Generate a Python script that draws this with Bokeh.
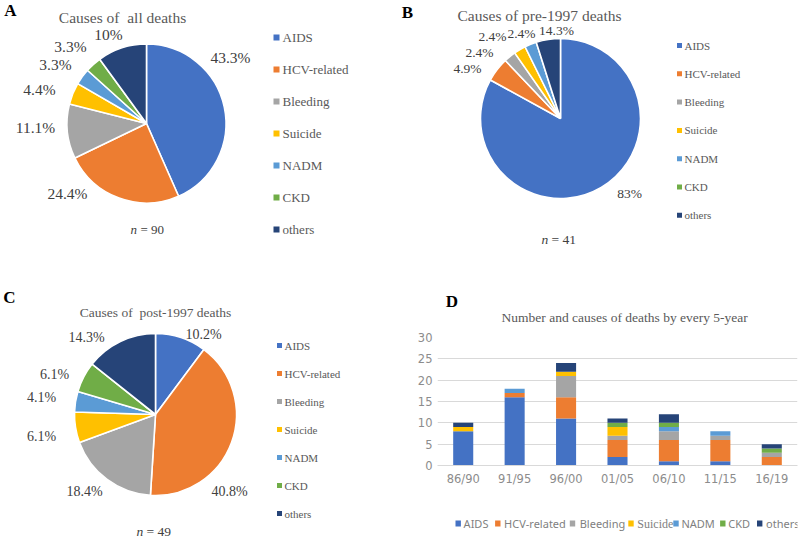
import numpy as np
from bokeh.plotting import figure
from bokeh.layouts import row, column
from bokeh.models import Range1d, FactorRange, ColumnDataSource
from bokeh.core.properties import value
from bokeh.embed import file_html
from bokeh.resources import INLINE

# ---------------- data ----------------
causes = ["AIDS", "HCV-related", "Bleeding", "Suicide", "NADM", "CKD", "others"]
colors = ["#4472C4", "#ED7D31", "#A5A5A5", "#FFC000", "#5B9BD5", "#70AD47", "#264478"]

all_pct = [43.3, 24.4, 11.1, 4.4, 3.3, 3.3, 10.0]
all_labels = ["43.3%", "24.4%", "11.1%", "4.4%", "3.3%", "3.3%", "10%"]

pre_pct = [83.0, 4.9, 2.4, 2.4, 2.4, 0.0, 4.9]
pre_labels = ["83%", "4.9%", "2.4%", "2.4%", "2.4%", "", "14.3%"]

post_pct = [10.2, 40.8, 18.4, 6.1, 4.1, 6.1, 14.3]
post_labels = ["10.2%", "40.8%", "18.4%", "6.1%", "4.1%", "6.1%", "14.3%"]

periods = ["86/90", "91/95", "96/00", "01/05", "06/10", "11/15", "16/19"]
aids = [8, 16, 11, 2, 1, 1, 0]
hcv = [0, 1, 5, 4, 5, 5, 2]
bleeding = [0, 0, 5, 1, 2, 1, 1]
suicide = [1, 0, 1, 2, 0, 0, 0]
nadm = [0, 1, 0, 0, 1, 1, 0]
ckd = [0, 0, 0, 1, 1, 0, 1]
others = [1, 0, 2, 1, 2, 0, 1]
y_ticks = [0, 5, 10, 15, 20, 25, 30]

SERIF = value("Liberation Serif")
SANS = value("Noto Sans")
DARK = "#404040"
GRAY = "#595959"


def canvas(x0, y0, w, h):
    p = figure(width=w, height=h, x_range=Range1d(x0, x0 + w),
               y_range=Range1d(-(y0 + h), -y0), output_backend="svg",
               toolbar_location=None, title=None, min_border=0,
               x_axis_location=None, y_axis_location=None)
    p.grid.visible = False
    p.outline_line_color = None
    p.background_fill_color = "white"
    return p


def txt(p, x, y, s, size, color=DARK, align="center", style="normal", font=SERIF):
    p.text(x=[x], y=[-y], text=[s], text_font=font, text_font_size=size,
           text_color=color, text_align=align, text_baseline="middle",
           text_font_style=style)


def pie(p, cx, cy, r, pct, labels, offsets, lsize):
    frac = np.array(pct, dtype=float) / sum(pct)
    cum = np.concatenate([[0.0], np.cumsum(frac)])
    start = np.pi / 2 - cum[1:] * 2 * np.pi
    end = np.pi / 2 - cum[:-1] * 2 * np.pi
    keep = frac > 0
    src = ColumnDataSource(dict(start=start[keep], end=end[keep],
                                color=[c for c, k in zip(colors, keep) if k]))
    p.wedge(x=cx, y=-cy, radius=r, start_angle="start", end_angle="end",
            fill_color="color", line_color="white", line_width=1.6, source=src)
    for lab, (dx, dy) in zip(labels, offsets):
        if lab:
            txt(p, cx + dx, cy + dy, lab, lsize)


def legend_col(p, sx, tx, y0, dy, sq, size):
    for i, (c, name) in enumerate(zip(colors, causes)):
        y = y0 + i * dy
        p.rect(x=[sx], y=[-y], width=sq, height=sq, fill_color=c, line_color=None)
        txt(p, tx, y, name, size, color=GRAY, align="left")


def n_label(p, cx, cy, num, size):
    txt(p, cx - 17, cy, "n", size, align="left", style="italic")
    txt(p, cx - 7, cy, "= " + num, size, align="left")


# ---------------- panel A ----------------
pA = canvas(0, 0, 400, 270)
txt(pA, 10, 10, "A", "17px", color="black", style="bold")
txt(pA, 122, 17, "Causes of\u00a0 all deaths", "15.5px", color=GRAY)
offA = [(84, -66), (-79, 70), (-111, 4), (-107, -34), (-91, -59), (-76, -77), (-38, -89)]
pie(pA, 146, 123, 79.5, all_pct, all_labels, offA, "15.5px")
legend_col(pA, 276, 282, 37, 32, 6, "13px")
n_label(pA, 147, 229, "90", "13px")

# ---------------- panel B ----------------
pB = canvas(400, 0, 400, 270)
txt(pB, 407, 12, "B", "17px", color="black", style="bold")
txt(pB, 539, 15, "Causes of pre-1997 deaths", "15.5px", color=GRAY)
offB = [(69, 75), (-93, -50), (-81, -66), (-68, -82), (-39, -85), (0, 0), (-4, -88)]
pie(pB, 560, 118, 80, pre_pct, pre_labels, offB, "13.5px")
legend_col(pB, 679, 684, 45, 28.3, 5, "11px")
n_label(pB, 558, 239, "41", "13.5px")

# ---------------- panel C ----------------
pC = canvas(0, 270, 400, 270)
txt(pC, 9, 297, "C", "17px", color="black", style="bold")
txt(pC, 155, 312, "Causes of\u00a0 post-1997 deaths", "13.5px", color=GRAY)
offC = [(48, -80), (74, 77), (-71, 77), (-114, 22), (-114, -17), (-101, -40), (-69, -77)]
pie(pC, 155, 414, 81, post_pct, post_labels, offC, "14px")
legend_col(pC, 279, 284, 345, 28, 5, "11px")
n_label(pC, 153, 531, "49", "13.5px")

# ---------------- panel D ----------------
pDh = canvas(400, 270, 400, 57)
txt(pDh, 416, 301, "D", "17px", color="black", style="bold")
txt(pDh, 608, 317, "Number and causes of deaths by every 5-year", "13.5px", color=GRAY)

data = dict(period=periods, AIDS=aids, **{"HCV-related": hcv}, Bleeding=bleeding,
            Suicide=suicide, NADM=nadm, CKD=ckd, others=others)
src = ColumnDataSource(data)
pD = figure(width=400, height=168, x_range=FactorRange(*periods), y_range=Range1d(0, 30),
            output_backend="svg", toolbar_location=None, title=None,
            min_border_left=37, min_border_right=3, min_border_top=10, min_border_bottom=30)
pD.vbar_stack(causes, x="period", width=0.39, color=colors, source=src, line_color=None)
pD.outline_line_color = None
pD.xgrid.grid_line_color = None
pD.ygrid.grid_line_color = "#d9d9d9"
pD.yaxis.ticker = y_ticks
pD.yaxis.axis_line_color = None
pD.yaxis.major_tick_line_color = None
pD.yaxis.minor_tick_line_color = None
pD.yaxis.major_tick_out = 0
pD.yaxis.major_label_standoff = 5
pD.xaxis.axis_line_color = "#d9d9d9"
pD.xaxis.major_tick_line_color = None
pD.xaxis.major_tick_out = 0
pD.xaxis.major_label_standoff = 6
for ax in (pD.xaxis, pD.yaxis):
    ax.major_label_text_font = "DejaVu Sans"
    ax.major_label_text_font_size = "11.5px"
    ax.major_label_text_color = "#8c8c8c"

pDl = canvas(400, 495, 400, 45)
sq_x = [423, 467, 550, 615, 665, 717, 758]
tx_x = [429, 474, 558, 622, 671, 723, 765]
for i, (c, name) in enumerate(zip(colors, causes)):
    pDl.rect(x=[sq_x[i]], y=[-523], width=6, height=6, fill_color=c, line_color=None)
    font = SERIF if name == "Suicide" else SANS
    size = "12px" if name == "Suicide" else "11px"
    txt(pDl, tx_x[i], 523, name, size, color="#7f7f7f", align="left", font=font)

layout = column(row(pA, pB), row(pC, column(pDh, pD, pDl)))

open("out.html", "w").write(file_html(layout, INLINE))
